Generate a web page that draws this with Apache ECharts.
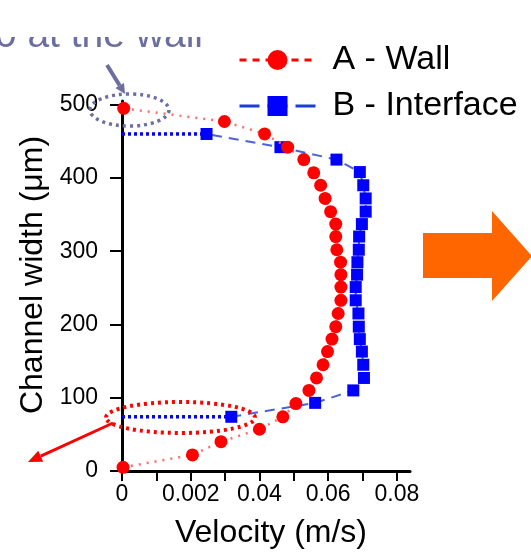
<!DOCTYPE html>
<html><head><meta charset="utf-8">
<script src="https://cdn.jsdelivr.net/npm/echarts@6/dist/echarts.min.js"></script>
<style>html,body{margin:0;padding:0;background:#fff}#c{width:531px;height:557px}</style>
</head><body><div id="c"></div>
<script>
// Series A - Wall (channel position in µm, velocity in m/s)
const wallHeight = [5, 22, 40, 57, 74, 92, 110, 127, 145, 163, 180, 197, 215, 233, 251, 268, 285, 302, 320, 337, 354, 372, 390, 407, 425, 442, 460, 477, 495];
const wallVelocity = [0.0003, 0.0205, 0.0288, 0.0400, 0.0468, 0.0506, 0.0544, 0.0566, 0.0585, 0.0598, 0.0611, 0.0622, 0.0629, 0.0637, 0.0637, 0.0637, 0.0636, 0.0625, 0.0622, 0.0622, 0.0607, 0.0591, 0.0578, 0.0558, 0.0529, 0.0482, 0.0415, 0.0298, 0.0005];
// Series B - Interface
const interfaceHeight = [74, 93, 110, 127, 145, 163, 180, 197, 215, 233, 251, 268, 285, 302, 320, 337, 354, 372, 390, 408, 425, 442, 460];
const interfaceVelocity = [0.0318, 0.0562, 0.0673, 0.0704, 0.0702, 0.0698, 0.0692, 0.0689, 0.0688, 0.0680, 0.0680, 0.0684, 0.0685, 0.0689, 0.0690, 0.0698, 0.0709, 0.0709, 0.0702, 0.0692, 0.0624, 0.0461, 0.0246];
// Axis ticks
const xTickValues = [0, 0.01, 0.02, 0.03, 0.04, 0.05, 0.06, 0.07, 0.08];
const xLabelValues = [0, 0.02, 0.04, 0.06, 0.08];
const xTickLabels = ['0', '0.002', '0.04', '0.06', '0.08'];
const yTickValues = [0, 100, 200, 300, 400, 500];
const yTickLabels = ['0', '100', '200', '300', '400', '500'];
const seriesNames = ['A - Wall', 'B - Interface'];

const FONT = "'Liberation Sans', Arial, sans-serif";
const wallData = wallVelocity.map((v, i) => [v, wallHeight[i]]);
const interfaceData = interfaceVelocity.map((v, i) => [v, interfaceHeight[i]]);
const last = interfaceVelocity.length - 1;
const linkBottom = [[0, interfaceHeight[0]], [interfaceVelocity[0], interfaceHeight[0]]];
const linkTop = [[0, interfaceHeight[last]], [interfaceVelocity[last], interfaceHeight[last]]];

const chart = echarts.init(document.getElementById('c'), null, {renderer: 'canvas'});
const purple = '#6b6e9f';
chart.setOption({
  animation: false,
  backgroundColor: '#fff',
  textStyle: {fontFamily: FONT},
  grid: {left: 122, right: 121, top: 101, bottom: 86, containLabel: false},
  legend: {
    orient: 'vertical', left: 233, top: 38, itemGap: 12,
    itemWidth: 76, itemHeight: 25,
    textStyle: {fontSize: 34, color: '#000', fontFamily: FONT, padding: [0, 0, 0, 12]},
    data: [
      {name: seriesNames[0], lineStyle: {type: [7, 6], width: 3, color: '#ff0000'}},
      {name: seriesNames[1], lineStyle: {type: [20, 8], width: 3, color: '#1a3fd6'}}
    ]
  },
  xAxis: {
    type: 'value', min: 0, max: 0.0838,
    name: 'Velocity (m/s)', nameLocation: 'middle', nameGap: 46,
    nameTextStyle: {fontSize: 32, color: '#000', fontFamily: FONT, padding: [0, 0, 0, 10]},
    axisLine: {lineStyle: {color: '#000', width: 3}},
    axisTick: {customValues: xTickValues, length: 10, lineStyle: {color: '#000', width: 2}},
    axisLabel: {customValues: xLabelValues, fontSize: 23, color: '#000', margin: 12, fontFamily: FONT,
      formatter: v => { const i = xLabelValues.findIndex(t => Math.abs(t - v) < 1e-9); return i >= 0 ? xTickLabels[i] : ''; }},
    splitLine: {show: false}
  },
  yAxis: {
    type: 'value', min: 0, max: 505,
    name: 'Channel width (μm)', nameLocation: 'middle', nameGap: 72, nameRotate: 90,
    nameTextStyle: {fontSize: 32, color: '#000', fontFamily: FONT, padding: [0, 0, 0, 22]},
    axisLine: {onZero: true, lineStyle: {color: '#000', width: 3}},
    axisTick: {customValues: yTickValues, length: 12, lineStyle: {color: '#000', width: 2}},
    axisLabel: {customValues: yTickValues, fontSize: 23, color: '#000', margin: 24, fontFamily: FONT,
      formatter: v => { const i = yTickValues.indexOf(v); return i >= 0 ? yTickLabels[i] : ''; }},
    splitLine: {show: false}
  },
  series: [
    {name: seriesNames[1] + ' link', type: 'line', data: linkBottom, symbol: 'none', clip: false, z: 2,
      lineStyle: {color: '#0000ff', width: 3.5, type: [3, 3]}},
    {name: seriesNames[1] + ' link2', type: 'line', data: linkTop, symbol: 'none', clip: false, z: 2,
      lineStyle: {color: '#0000ff', width: 3.5, type: [3, 3]}},
    {name: seriesNames[1], type: 'line', data: interfaceData, clip: false, z: 3,
      symbol: 'rect', symbolSize: 12, itemStyle: {color: '#0000ff'},
      lineStyle: {color: '#4a63dc', width: 2, type: [10, 7]}},
    {name: seriesNames[0], type: 'line', data: wallData, clip: false, z: 4,
      symbol: 'circle', symbolSize: 13, itemStyle: {color: '#ff0000'},
      lineStyle: {color: '#ff6b6b', width: 2.5, type: [2, 6]}}
  ],
  graphic: [
    {type: 'text', z: 10, style: {text: 'v = 0 at the wall', x: 203, y: 36, align: 'right', verticalAlign: 'middle',
      font: '39px ' + FONT, fill: purple}},
    {type: 'rect', z: 11, shape: {x: 0, y: 0, width: 216, height: 37}, style: {fill: '#fff'}},
    {type: 'line', z: 10, shape: {x1: 107, y1: 65, x2: 119.7, y2: 85.5}, style: {stroke: purple, lineWidth: 4}},
    {type: 'polygon', z: 10, shape: {points: [[125, 94], [115.4, 88.1], [124, 82.9]]}, style: {fill: purple}},
    {type: 'ellipse', z: 10, shape: {cx: 129.5, cy: 110, rx: 39.5, ry: 16}, style: {fill: 'none', stroke: purple, lineWidth: 3.5, lineDash: [3, 4]}},
    {type: 'ellipse', z: 10, shape: {cx: 180.5, cy: 417.5, rx: 74.5, ry: 15.5}, style: {fill: 'none', stroke: '#ff0000', lineWidth: 4, lineDash: [3, 4]}},
    {type: 'line', z: 10, shape: {x1: 113, y1: 423, x2: 40.7, y2: 456.2}, style: {stroke: '#ff0000', lineWidth: 3}},
    {type: 'polygon', z: 10, shape: {points: [[28, 462], [38.2, 450.7], [43.2, 461.7]]}, style: {fill: '#ff0000'}},
    {type: 'polygon', z: 10, shape: {points: [[423, 233], [492, 233], [492, 211], [532, 256], [492, 301], [492, 278], [423, 278]]}, style: {fill: '#ff6600'}}
  ]
});
</script></body></html>
